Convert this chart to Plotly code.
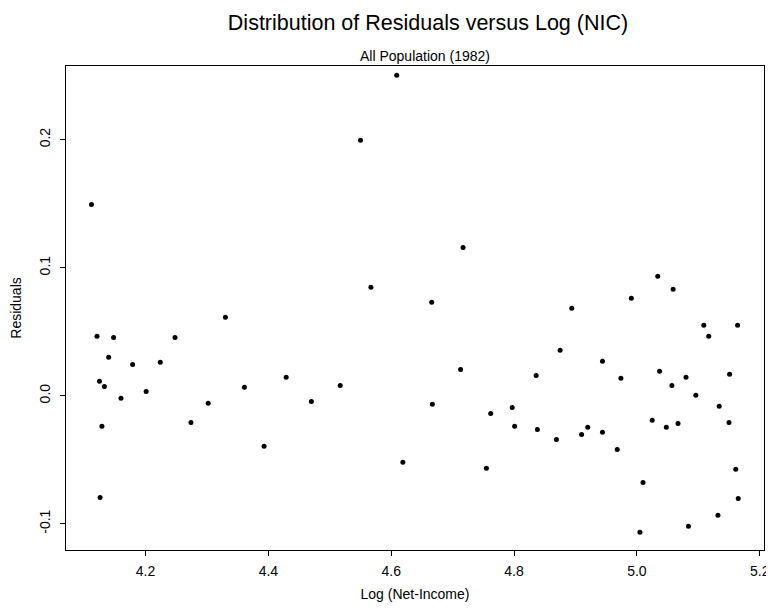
import plotly.graph_objects as go

log_net_income = [
    4.112, 4.121, 4.148, 4.140, 4.179, 4.224, 4.248, 4.330, 4.125, 4.133,
    4.160, 4.201, 4.302, 4.361, 4.429, 4.274, 4.129, 4.393, 4.126, 4.470,
    4.609, 4.550, 4.717, 4.567, 4.666, 4.713, 4.836, 4.517, 4.667, 4.797,
    4.762, 4.801, 4.838, 4.619, 4.755,
    5.034, 5.059, 4.991, 4.894, 5.109, 5.164, 5.117, 4.875, 4.944, 5.037,
    4.974, 5.080, 5.151, 5.057, 5.096, 5.134, 5.025, 5.048, 5.067, 5.150,
    4.920, 4.910, 4.944, 4.869, 4.968, 5.010, 5.161, 5.165, 5.132, 5.084,
    5.005,
]
residuals = [
    0.1495, 0.0464, 0.0456, 0.0300, 0.0245, 0.0261, 0.0456, 0.0613, 0.0113, 0.0073,
    -0.0020, 0.0034, -0.0059, 0.0066, 0.0144, -0.0208, -0.0239, -0.0395, -0.0794, -0.0044,
    0.2503, 0.1995, 0.1159, 0.0847, 0.0730, 0.0206, 0.0159, 0.0081, -0.0067, -0.0091,
    -0.0138, -0.0239, -0.0263, -0.0520, -0.0567,
    0.0933, 0.0831, 0.0761, 0.0683, 0.0550, 0.0550, 0.0464, 0.0355, 0.0269, 0.0191,
    0.0136, 0.0144, 0.0167, 0.0081, 0.0003, -0.0083, -0.0192, -0.0247, -0.0216, -0.0208,
    -0.0247, -0.0302, -0.0286, -0.0341, -0.0419, -0.0677, -0.0575, -0.0802, -0.0934, -0.1020,
    -0.1067,
]
x_ticks = [4.2, 4.4, 4.6, 4.8, 5.0, 5.2]
x_tick_labels = ["4.2", "4.4", "4.6", "4.8", "5.0", "5.2"]
y_ticks = [-0.1, 0.0, 0.1, 0.2]
y_tick_labels = ["-0.1", "0.0", "0.1", "0.2"]

FONT = "Liberation Sans, Arial, Helvetica, sans-serif"

# The page body adds an 8px offset; the figure is sized to fill the window after it.
W, H = 766, 604

fig = go.Figure(
    go.Scatter(
        x=log_net_income,
        y=residuals,
        mode="markers",
        marker=dict(size=5, color="black"),
        hoverinfo="x+y",
    )
)

axis_common = dict(
    automargin=False,
    showgrid=False,
    zeroline=False,
    showline=True,
    linecolor="black",
    linewidth=1,
    mirror=True,
    ticks="outside",
    ticklen=5,
    tickwidth=1,
    tickcolor="black",
    tickfont=dict(family=FONT, size=14, color="black"),
)

ml, mr, mt, mb = 58, 10, 58, 62

fig.update_layout(
    template="none",
    width=W,
    height=H,
    paper_bgcolor="white",
    plot_bgcolor="white",
    showlegend=False,
    margin=dict(l=ml, r=mr, t=mt, b=mb, pad=0),
    font=dict(family=FONT, color="black"),
    title=dict(
        text="Distribution of Residuals versus Log (NIC)",
        x=420 / W,
        xanchor="center",
        xref="container",
        y=1 - 14 / H,
        yanchor="middle",
        font=dict(family=FONT, size=21.5, color="black"),
    ),
    xaxis=dict(
        axis_common,
        range=[4.0705, 5.207],
        tickmode="array",
        tickvals=x_ticks,
        ticktext=x_tick_labels,
        ticklabelstandoff=3,
        title=dict(text="Log (Net-Income)", font=dict(family=FONT, size=14), standoff=11),
    ),
    yaxis=dict(
        axis_common,
        range=[-0.1205, 0.2576],
        tickmode="array",
        tickvals=y_ticks,
        ticktext=y_tick_labels,
        tickangle=-90,
        ticklabelstandoff=4,
        title=dict(text="Residuals", font=dict(family=FONT, size=14), standoff=13),
    ),
    annotations=[
        dict(
            text="All Population (1982)",
            xref="paper",
            yref="paper",
            x=(417 - ml) / (W - ml - mr),
            y=1,
            xanchor="center",
            yanchor="bottom",
            yshift=0,
            showarrow=False,
            font=dict(family=FONT, size=14, color="black"),
        )
    ],
)

fig.write_html("out.html")
